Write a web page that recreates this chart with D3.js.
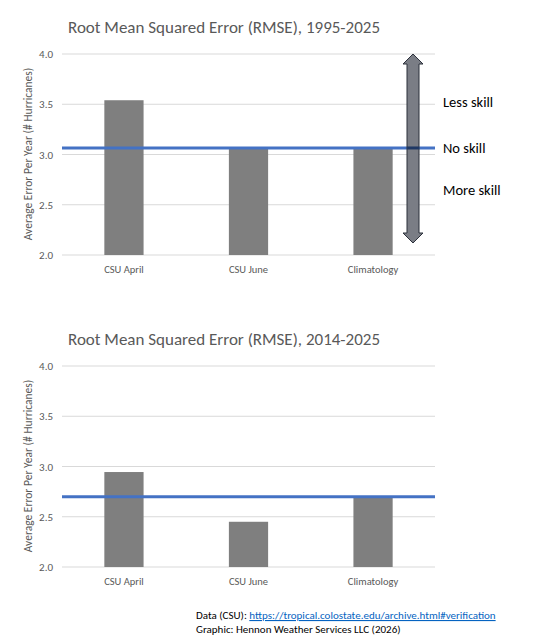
<!DOCTYPE html><html><head><meta charset="utf-8"><script src="https://cdn.jsdelivr.net/npm/d3@7"></script>
<style>body{margin:0;background:#fff}text{font-family:Calibri,Carlito,Lato,sans-serif}</style></head><body>
<script>
const categories=["CSU April","CSU June","Climatology"];
const values1=[3.54,3.07,3.07];
const values2=[2.945,2.45,2.70];
const noSkill1=3.065, noSkill2=2.70;
const titles=["Root Mean Squared Error (RMSE), 1995-2025","Root Mean Squared Error (RMSE), 2014-2025"];
const yTicks=[2.0,2.5,3.0,3.5,4.0];
const skillLabels=["Less skill","No skill","More skill"];
const svg=d3.select("body").append("svg").attr("width",548).attr("height",643);
const x=d3.scaleBand().domain(categories).range([62,435]).paddingInner(0.685).paddingOuter(0.34);
function chart(top,vals,ns,title){
  const y=d3.scaleLinear().domain([2,4]).range([top+201,top]);
  const g=svg.append("g");
  g.append("text").attr("x",68).attr("y",top-21).attr("font-size",17).attr("fill","#595959").text(title);
  g.selectAll(".gr").data(yTicks).join("line").attr("x1",62).attr("x2",435).attr("y1",d=>y(d)).attr("y2",d=>y(d)).attr("stroke","#d9d9d9");
  g.selectAll(".yt").data(yTicks).join("text").attr("x",53).attr("y",d=>y(d)+4).attr("text-anchor","end").attr("font-size",11).attr("fill","#595959").text(d=>d.toFixed(1));
  g.selectAll(".b").data(vals).join("rect").attr("x",(d,i)=>x(categories[i])).attr("width",x.bandwidth()).attr("y",d=>y(d)).attr("height",d=>y(2)-y(d)).attr("fill","#7f7f7f");
  g.selectAll(".xl").data(categories).join("text").attr("x",d=>x(d)+x.bandwidth()/2).attr("y",top+219).attr("text-anchor","middle").attr("font-size",10.5).attr("fill","#595959").text(d=>d);
  g.append("text").attr("transform",`translate(32,${top+100}) rotate(-90)`).attr("text-anchor","middle").attr("font-size",11.5).attr("fill","#595959").text("Average Error Per Year (# Hurricanes)");
  g.append("line").attr("x1",62).attr("x2",435).attr("y1",y(ns)).attr("y2",y(ns)).attr("stroke","#4472c4").attr("stroke-width",3);
  return y;
}
const y1=chart(54,values1,noSkill1,titles[0]);
chart(366,values2,noSkill2,titles[1]);
const ax=413,t=y1(4),b=y1(2)-12;
svg.append("path").attr("d",`M${ax},${t} L${ax+10},${t+10} L${ax+6},${t+10} L${ax+6},${b-10} L${ax+10},${b-10} L${ax},${b} L${ax-10},${b-10} L${ax-6},${b-10} L${ax-6},${t+10} L${ax-10},${t+10} Z`).attr("fill","#7a7d85").attr("stroke","#2b303b").attr("stroke-width",1);
svg.append("line").attr("x1",ax-6).attr("x2",ax+6).attr("y1",y1(noSkill1)).attr("y2",y1(noSkill1)).attr("stroke","#1f3864").attr("stroke-width",3);
const ly=[y1(3.52),y1(noSkill1),y1(2.65)];
svg.selectAll(".sk").data(skillLabels).join("text").attr("x",443).attr("y",(d,i)=>ly[i]+5).attr("font-size",14.5).attr("fill","#000").text(d=>d);
const f=svg.append("g").attr("font-size",11);
const t1=f.append("text").attr("x",196).attr("y",619);
t1.append("tspan").text("Data (CSU): ");
t1.append("tspan").attr("fill","#0563c1").attr("text-decoration","underline").text("https://tropical.colostate.edu/archive.html#verification");
f.append("text").attr("x",196).attr("y",633).text("Graphic: Hennon Weather Services LLC (2026)");
</script></body></html>
